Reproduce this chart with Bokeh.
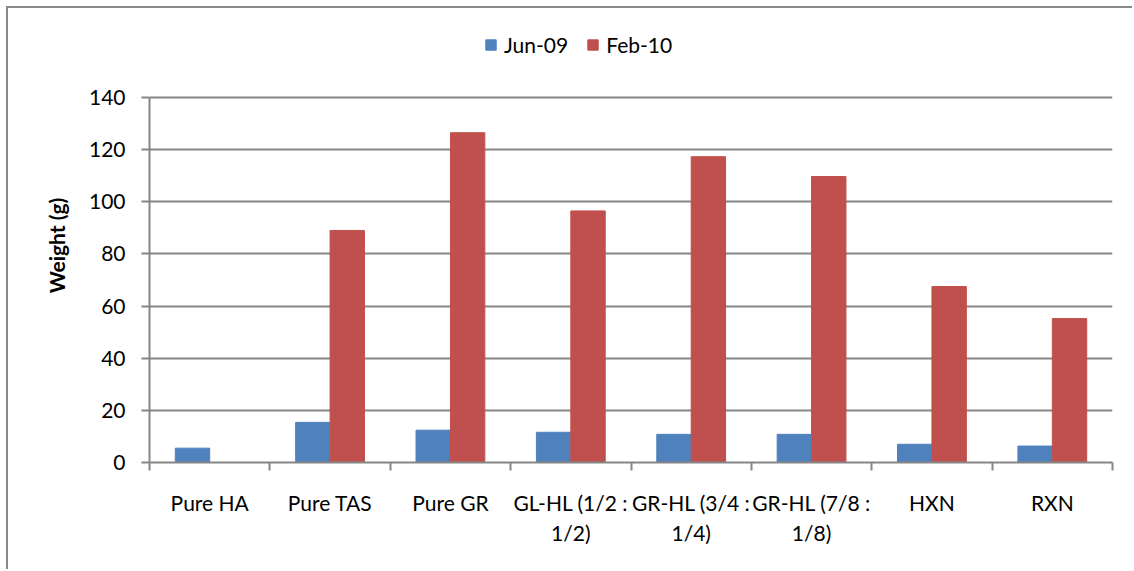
from bokeh.plotting import figure
from bokeh.models import ColumnDataSource, Range1d, FixedTicker
from bokeh.transform import dodge
from bokeh.embed import file_html
from bokeh.resources import INLINE

categories = ["Pure HA", "Pure TAS", "Pure GR", "GL-HL (1/2 :\n1/2)",
              "GR-HL (3/4 :\n1/4)", "GR-HL (7/8 :\n1/8)", "HXN", "RXN"]
jun09 = [5.5, 15.4, 12.4, 11.6, 10.8, 10.8, 7.0, 6.3]
feb10 = [0.0, 89.0, 126.5, 96.5, 117.3, 109.7, 67.5, 55.2]
y_ticks = [0, 20, 40, 60, 80, 100, 120, 140]
series_names = ["Jun-09", "Feb-10"]

BLUE = "#4F81BD"
RED = "#C0504D"
GRAY = "#868686"
FONT = "Lato"

# layout (pixels)
W, H = 1126, 563
ML, MR, MT, MB = 141, 22, 20, 109
frame_h = H - MT - MB
axis_top_px = 69           # space between frame top and the 140 gridline
y_max = y_ticks[-1] * frame_h / (frame_h - axis_top_px)

idx = list(range(len(categories)))
source = ColumnDataSource(dict(x=idx, jun=jun09, feb=feb10))

p = figure(width=W, height=H, output_backend="svg", toolbar_location=None,
           x_range=Range1d(-0.5, len(categories) - 0.5), y_range=Range1d(0, y_max),
           min_border_left=ML, min_border_right=MR, min_border_top=MT,
           min_border_bottom=MB,
           styles={"border-left": "2px solid #898989", "border-top": "2px solid #898989",
                   "margin-left": "6px", "margin-top": "6px"})

bw = 1.0 / 3.5
r1 = p.vbar(x=dodge("x", -bw / 2, range=p.x_range), top="jun", width=bw, source=source,
            fill_color=BLUE, line_color=BLUE, legend_label=series_names[0])
r2 = p.vbar(x=dodge("x", bw / 2, range=p.x_range), top="feb", width=bw, source=source,
            fill_color=RED, line_color=RED, legend_label=series_names[1])

p.outline_line_color = None
p.background_fill_color = "white"
p.border_fill_color = "white"

# x axis
xa = p.xaxis[0]
xa.ticker = FixedTicker(ticks=idx, minor_ticks=[i - 0.5 for i in range(len(categories) + 1)])
xa.major_label_overrides = {i: c for i, c in zip(idx, categories)}
xa.major_tick_out = 0
xa.major_tick_in = 0
xa.minor_tick_out = 8
xa.minor_tick_in = 0
xa.minor_tick_line_color = GRAY
xa.minor_tick_line_width = 2
xa.axis_line_color = GRAY
xa.axis_line_width = 2
xa.major_label_text_font = FONT
xa.major_label_text_font_size = "21px"
xa.major_label_text_color = "black"
xa.major_label_standoff = 19

# y axis
ya = p.yaxis[0]
ya.ticker = FixedTicker(ticks=y_ticks)
ya.bounds = (y_ticks[0], y_ticks[-1])
ya.minor_tick_line_color = None
ya.major_tick_out = 8
ya.major_tick_in = 0
ya.major_tick_line_color = GRAY
ya.major_tick_line_width = 2
ya.axis_line_color = GRAY
ya.axis_line_width = 2
ya.major_label_text_font = FONT
ya.major_label_text_font_size = "21px"
ya.major_label_text_color = "black"
ya.major_label_standoff = 16
ya.axis_label = "Weight (g)"
ya.axis_label_text_font = FONT
ya.axis_label_text_font_size = "21px"
ya.axis_label_text_font_style = "bold"
ya.axis_label_text_color = "black"
ya.axis_label_standoff = 17

p.xgrid.visible = False
p.ygrid.ticker = FixedTicker(ticks=y_ticks)
p.ygrid.grid_line_color = GRAY
p.ygrid.grid_line_width = 2

lg = p.legend[0]
lg.orientation = "horizontal"
lg.location = (335, frame_h - 29)
lg.glyph_width = 13
lg.glyph_height = 13
lg.label_height = 24
lg.label_standoff = 7
lg.spacing = 18
lg.padding = 0
lg.margin = 0
lg.border_line_color = None
lg.background_fill_alpha = 0
lg.label_text_font = FONT
lg.label_text_font_size = "21px"
lg.label_text_color = "black"

open("out.html", "w").write(file_html(p, INLINE))
